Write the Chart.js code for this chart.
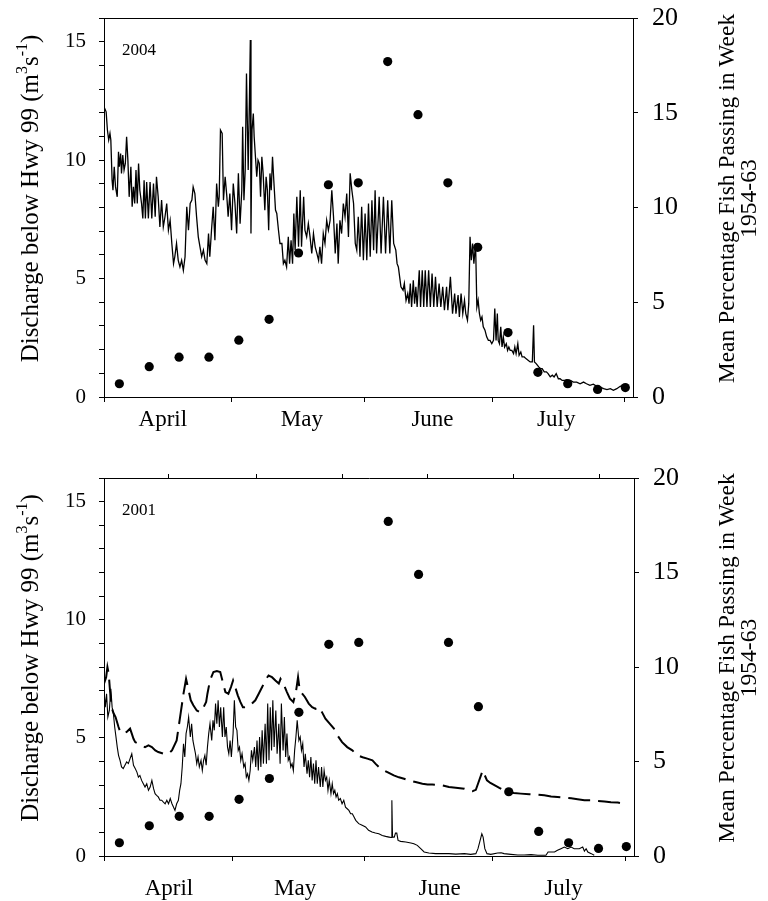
<!DOCTYPE html>
<html lang="en">
<head>
<meta charset="UTF-8">
<title>Discharge below Hwy 99 - 2004 and 2001</title>
<script src="https://cdn.jsdelivr.net/npm/chart.js"></script>
<style>
    body { margin: 0; background: #fff; }
    .panel { position: relative; width: 768px; }
    #panelTop { height: 450px; }
    #panelBottom { height: 451px; }
</style>
</head>
<body>
<div class="panel" id="panelTop"><canvas id="chart2004"></canvas></div>
<div class="panel" id="panelBottom"><canvas id="chart2001"></canvas></div>
<script>
// x values are days counted from 1 April
const monthStarts = [0, 30, 61, 91, 122];
const monthNames = ['April', 'May', 'June', 'July'];
const monthLabelDays2004 = [13.8, 46.4, 77.0, 106.0];
const monthLabelDays2001 = [15.2, 44.7, 78.5, 107.5];
const topTickDays2001 = [15.2, 35.6, 55.7, 75.6, 95.9, 116.0];

// weekly mean percentage of fish passing, 1954-63 (right axis)
const fishDays = [3.6, 10.6, 17.6, 24.6, 31.6, 38.7, 45.6, 52.6, 59.6, 66.5, 73.6, 80.6, 87.6, 94.7, 101.7, 108.7, 115.7, 122.2];
const fishPct = [0.7, 1.6, 2.1, 2.1, 3.0, 4.1, 7.6, 11.2, 11.3, 17.7, 14.9, 11.3, 7.9, 3.4, 1.3, 0.7, 0.4, 0.5];

// discharge below Hwy 99, 2004 [day, m3/s]
const flow2004 = [
    [0.0,12.25],[0.5,12.04],[0.8,11.27],[1.1,10.85],[1.4,11.13],[1.6,10.85],[1.9,9.15],[2.1,8.73],[2.4,9.72],[2.7,8.87],
    [3.1,8.45],[3.4,10.35],[3.6,9.72],[3.9,10.28],[4.1,9.44],[4.4,10.21],[4.7,9.58],[5.0,9.86],[5.3,10.99],[5.6,10.0],
    [5.9,8.45],[6.3,9.72],[6.6,8.03],[6.9,8.87],[7.2,8.17],[7.5,9.58],[7.8,8.17],[8.1,9.86],[8.4,8.73],[8.8,8.17],
    [9.1,7.54],[9.4,9.15],[9.7,7.54],[10.0,9.08],[10.4,7.54],[10.8,9.08],[11.2,7.54],[11.6,9.01],[12.0,7.61],[12.3,9.30],
    [12.7,8.45],[13.1,7.18],[13.5,8.31],[13.9,7.18],[14.3,7.61],[14.7,8.17],[15.1,7.04],[15.5,7.46],[15.9,6.48],[16.3,5.63],
    [16.6,5.92],[17.0,6.48],[17.4,5.77],[17.8,5.49],[18.2,5.77],[18.6,5.35],[19.0,5.92],[19.4,8.03],[19.8,7.04],[20.2,8.17],
    [20.6,8.31],[20.9,8.87],[21.3,8.59],[21.7,7.61],[22.1,6.76],[22.5,6.34],[22.9,5.92],[23.3,6.2],[23.7,5.77],[24.1,5.63],
    [24.5,6.9],[24.8,5.92],[25.2,7.04],[25.6,8.03],[26.0,6.62],[26.4,9.01],[26.8,8.03],[27.0,8.45],[27.3,11.27],[27.7,11.13],
    [28.0,8.31],[28.4,9.3],[28.8,8.45],[29.1,7.61],[29.5,8.59],[29.9,7.04],[30.3,9.01],[30.7,8.17],[31.1,6.9],[31.5,9.44],
    [31.9,7.32],[32.3,8.73],[32.5,11.41],[32.8,8.31],[33.1,9.58],[33.4,13.66],[33.8,9.58],[34.1,12.68],[34.3,15.07],[34.45,6.9],
    [34.7,11.27],[35.0,11.97],[35.2,10.99],[35.5,10.14],[35.8,9.3],[36.1,10.0],[36.4,9.86],[36.7,8.45],[37.0,10.14],[37.3,9.44],
    [37.7,7.89],[38.0,9.3],[38.3,8.73],[38.6,7.04],[38.9,9.44],[39.2,8.73],[39.5,10.14],[39.8,9.15],[40.2,7.89],[40.5,7.75],
    [40.9,7.04],[41.25,6.48],[41.7,6.48],[42.05,5.63],[42.4,5.77],[42.8,5.49],[43.2,6.76],[43.5,5.63],[43.85,6.62],[44.2,5.63],
    [44.5,7.75],[44.8,6.2],[45.2,8.45],[45.6,6.34],[46.0,8.73],[46.3,6.34],[46.8,8.45],[47.1,7.04],[47.5,6.76],[47.9,7.32],
    [48.3,6.76],[48.7,6.06],[49.1,6.9],[49.5,6.34],[49.9,6.06],[50.3,5.77],[50.6,6.34],[51.0,5.63],[51.4,6.9],[51.8,6.48],
    [52.2,7.46],[52.6,7.04],[53.0,7.46],[53.4,8.73],[53.8,7.61],[54.2,6.06],[54.6,7.32],[54.9,5.63],[55.3,7.46],[55.7,6.9],
    [56.1,8.17],[56.5,7.61],[56.9,8.59],[57.3,6.76],[57.7,9.44],[58.1,8.73],[58.5,8.17],[58.9,6.48],[59.25,6.2],[59.6,7.61],
    [60.0,5.92],[60.4,8.03],[60.8,5.77],[61.2,7.75],[61.6,5.77],[62.0,8.17],[62.4,5.92],[62.8,8.31],[63.2,6.2],[63.55,8.73],
    [63.9,6.06],[64.5,8.45],[64.95,6.06],[65.5,8.45],[66.0,6.06],[66.5,8.31],[67.0,6.06],[67.45,8.31],[67.9,6.48],[68.4,6.2],
    [68.7,5.63],[69.0,5.49],[69.3,5.07],[69.6,4.65],[70.1,4.51],[70.4,4.79],[70.8,4.08],[71.2,4.37],[71.5,3.94],[71.8,4.79],
    [72.1,3.8],[72.5,4.93],[72.8,3.94],[73.1,4.65],[73.4,3.8],[73.9,5.35],[74.2,3.8],[74.6,5.35],[74.95,3.8],[75.3,5.35],
    [75.7,3.8],[76.1,5.35],[76.5,3.8],[76.9,5.21],[77.3,3.8],[77.7,5.07],[78.1,3.8],[78.55,4.79],[78.95,3.8],[79.4,4.65],
    [79.8,3.66],[80.3,4.65],[80.6,3.66],[81.2,5.07],[81.7,3.52],[82.2,4.37],[82.5,3.52],[83.0,4.3],[83.3,3.38],[83.7,4.37],
    [84.1,3.52],[84.5,4.08],[84.8,3.52],[85.2,3.24],[85.5,3.94],[85.8,6.76],[86.1,5.77],[86.4,6.48],[86.7,5.63],[87.1,6.48],
    [87.4,3.8],[87.7,4.08],[88.0,3.52],[88.3,3.24],[88.6,3.38],[88.9,2.96],[89.3,2.82],[89.7,2.54],[90.1,2.39],[90.5,2.39],
    [90.9,2.25],[91.3,2.39],[91.6,3.73],[91.9,2.39],[92.2,3.52],[92.4,2.39],[92.7,2.25],[93.0,2.96],[93.3,2.11],[93.6,2.54],
    [93.9,2.11],[94.3,2.25],[94.6,1.97],[94.9,2.11],[95.2,1.97],[95.6,1.97],[96.0,1.83],[96.3,2.11],[96.6,1.83],[97.0,2.25],
    [97.3,1.76],[97.7,1.9],[98.0,1.69],[98.5,1.69],[98.9,1.62],[99.4,1.55],[99.9,1.48],[100.4,1.48],[100.7,3.03],[100.9,1.48],
    [101.3,1.41],[101.9,1.27],[102.3,1.2],[102.7,1.2],[103.2,1.06],[103.7,1.06],[104.1,0.99],[104.6,0.85],[105.1,0.92],[105.5,0.85],
    [106.0,0.99],[106.5,0.77],[106.9,0.77],[107.4,0.7],[107.9,0.7],[108.5,0.73],[109.3,0.7],[110.0,0.63],[110.8,0.63],[111.6,0.56],
    [112.4,0.63],[113.1,0.56],[113.9,0.49],[114.7,0.54],[115.5,0.45],[116.3,0.42],[117.1,0.35],[117.9,0.31],[118.7,0.35],[119.4,0.28],
    [120.2,0.35],[121.0,0.45],[121.8,0.5]
];

// discharge below Hwy 99, 2001 [day, m3/s] (thin line)
const flow2001 = [
    [0.0,7.01],[0.3,6.3],[0.6,6.87],[0.9,5.88],[1.25,6.16],[1.6,7.08],[1.9,6.3],[2.2,6.02],[2.5,5.46],[2.8,5.04],
    [3.1,4.61],[3.4,4.26],[3.75,4.05],[4.1,3.77],[4.5,3.7],[4.9,3.84],[5.3,3.98],[5.7,3.91],[6.1,4.12],[6.5,4.33],
    [6.9,3.84],[7.3,3.7],[7.7,3.55],[8.05,3.34],[8.4,3.41],[8.8,3.2],[9.2,3.06],[9.6,2.92],[10.0,3.06],[10.4,2.78],
    [10.8,2.92],[11.2,3.2],[11.6,2.85],[11.95,2.64],[12.3,2.57],[12.7,2.5],[13.1,2.36],[13.5,2.36],[13.9,2.28],[14.3,2.21],
    [14.7,2.36],[15.1,2.21],[15.5,2.43],[15.9,2.21],[16.25,2.07],[16.6,1.93],[17.0,2.21],[17.4,2.36],[17.7,2.78],[18.0,3.06],
    [18.3,3.77],[18.6,4.75],[18.9,4.19],[19.2,5.18],[19.5,5.46],[19.8,5.88],[20.2,5.04],[20.5,5.6],[20.8,4.89],[21.1,4.61],
    [21.4,4.33],[21.7,3.91],[22.0,4.19],[22.3,3.77],[22.7,4.05],[23.0,3.62],[23.3,4.05],[23.6,4.26],[23.9,3.84],[24.2,4.61],
    [24.5,5.18],[24.8,5.6],[25.2,4.89],[25.5,5.74],[25.8,5.32],[26.1,6.45],[26.4,5.6],[26.7,6.59],[27.0,5.46],[27.3,6.3],
    [27.7,5.04],[28.0,6.3],[28.3,5.04],[28.6,5.46],[28.9,4.61],[29.2,4.33],[29.5,4.89],[29.8,4.19],[30.2,5.18],[30.5,6.59],
    [30.8,5.46],[31.1,5.32],[31.4,4.47],[31.7,4.61],[32.0,4.05],[32.3,4.33],[32.7,3.77],[33.0,3.91],[33.3,3.34],[33.6,3.48],
    [33.9,3.2],[34.2,3.62],[34.5,4.47],[34.8,4.05],[35.2,4.61],[35.5,3.77],[35.8,4.89],[36.1,3.62],[36.4,5.04],[36.7,3.77],
    [37.0,5.32],[37.3,3.91],[37.7,5.6],[38.0,3.91],[38.3,6.45],[38.6,4.05],[38.9,6.3],[39.2,4.47],[39.5,6.59],[39.8,4.61],
    [40.2,6.16],[40.5,4.33],[40.9,5.6],[41.2,3.91],[41.5,6.45],[41.9,4.47],[42.2,5.88],[42.5,4.19],[42.8,5.18],[43.1,4.05],
    [43.4,4.19],[43.7,3.77],[44.0,3.91],[44.3,3.62],[44.6,4.47],[44.9,5.04],[45.2,5.74],[45.6,4.89],[45.9,5.04],[46.2,4.47],
    [46.5,4.75],[46.8,3.77],[47.1,4.33],[47.5,3.48],[47.8,4.05],[48.1,3.34],[48.4,4.19],[48.7,3.2],[49.0,3.91],[49.3,3.06],
    [49.6,4.05],[49.9,3.06],[50.2,3.77],[50.6,2.92],[50.9,3.77],[51.2,2.92],[51.5,3.62],[51.8,3.2],[52.1,3.34],[52.4,2.78],
    [52.7,3.2],[53.1,2.64],[53.4,3.06],[53.7,2.64],[54.0,2.78],[54.3,2.5],[54.6,2.64],[54.9,2.36],[55.3,2.43],[55.7,2.21],
    [56.1,2.36],[56.5,2.07],[56.9,2.0],[57.3,1.93],[57.7,1.79],[58.1,1.79],[58.5,1.65],[58.9,1.51],[59.6,1.37],[60.4,1.3],
    [61.2,1.23],[61.9,1.09],[62.7,1.02],[63.5,0.97],[64.3,0.94],[65.1,0.87],[65.9,0.83],[66.7,0.8],[67.2,0.78],[67.35,2.36],
    [67.5,0.8],[67.9,0.8],[68.2,0.97],[68.5,0.97],[68.8,0.66],[69.4,0.62],[70.6,0.59],[71.8,0.55],[72.5,0.52],[73.3,0.45],
    [74.1,0.31],[74.9,0.17],[76.0,0.13],[77.6,0.1],[79.2,0.1],[80.7,0.1],[82.3,0.08],[84.3,0.1],[85.8,0.07],[87.0,0.1],
    [87.5,0.31],[88.0,0.66],[88.4,0.94],[88.7,0.8],[89.1,0.31],[89.6,0.1],[90.5,0.07],[92.1,0.13],[92.9,0.14],[93.6,0.1],
    [95.2,0.07],[96.8,0.04],[98.3,0.04],[99.9,0.06],[101.5,0.03],[103.4,0.03],[103.9,0.17],[105.4,0.17],[106.1,0.24],[106.9,0.31],
    [107.7,0.38],[108.5,0.31],[109.3,0.38],[110.0,0.31],[111.2,0.31],[112.0,0.38],[112.4,0.21],[112.8,0.31],[113.2,0.17],[114.0,0.1],
    [114.7,0.03]
];

// 2001 dashed line [day, m3/s]
const flow2001Dashed = [
    [0,7.29],[0.5,7.57],[0.8,8.0],[1.1,7.72],[1.4,7.01],[1.7,6.45],[2.0,6.16],[2.3,6.02],[2.7,5.88],[3.4,5.46],
    [3.8,5.25],[4.5,5.18],[5.3,5.25],[6.1,5.39],[6.5,5.18],[6.9,4.96],[7.3,4.82],[8.5,4.7],[9.6,4.61],[10.4,4.68],
    [11.2,4.61],[12.0,4.47],[12.7,4.4],[13.9,4.33],[15.1,4.33],[15.9,4.47],[17.0,4.89],[17.8,5.88],[18.6,6.87],[19.2,7.5],
    [19.8,7.01],[20.3,6.59],[20.9,6.38],[21.7,6.16],[22.5,6.09],[23.3,6.3],[23.9,6.52],[24.2,6.87],[24.8,7.43],[25.6,7.79],
    [26.4,7.83],[27.2,7.79],[27.8,7.36],[28.4,6.94],[29.1,6.87],[29.7,7.15],[30.2,7.43],[30.7,7.15],[31.3,6.8],[31.9,6.52],
    [32.5,6.3],[32.9,6.3],[33.8,6.35],[34.6,6.45],[35.4,6.59],[36.2,6.87],[37.0,7.15],[37.7,7.43],[38.5,7.64],[39.3,7.57],
    [40.1,7.43],[40.9,7.3],[41.3,7.5],[42.0,7.29],[42.8,6.94],[43.5,6.66],[44.3,6.52],[44.9,6.94],[45.4,7.57],[45.8,7.01],
    [47.0,6.73],[47.9,6.45],[48.7,6.3],[49.5,6.23],[50.3,6.3],[51.0,6.09],[51.8,5.81],[52.8,5.6],[53.8,5.39],[54.6,5.11],
    [55.7,4.82],[56.9,4.61],[58.1,4.47],[59.3,4.26],[60.5,4.18],[61.6,4.12],[62.8,4.05],[63.5,3.91],[64.7,3.7],[66.3,3.55],
    [67.8,3.41],[69.0,3.33],[70.2,3.27],[71.4,3.2],[72.9,3.13],[74.5,3.06],[75.7,3.03],[76.8,3.03],[79.2,2.99],[80.7,2.92],
    [82.3,2.89],[84.3,2.85],[85.4,2.78],[86.2,2.74],[87.0,2.8],[87.5,3.06],[88.6,3.62],[89.6,3.2],[90.4,3.09],[92.5,2.88],
    [93.6,2.78],[94.8,2.71],[95.9,2.67],[97.5,2.64],[99.5,2.61],[101.4,2.6],[103.0,2.57],[104.6,2.52],[106.1,2.5],[107.7,2.47],
    [109.3,2.44],[110.8,2.4],[112.4,2.36],[114.0,2.36],[115.5,2.33],[117.1,2.31],[118.6,2.28],[120.2,2.26],[122.2,2.19]
];

const black = '#000';
const serif = '"Liberation Serif", "Times New Roman", serif';

// rotated axis titles and the year tag
const panelText = {
    id: 'panelText',
    afterDraw(chart, args, opts) {
        const { ctx, chartArea } = chart;
        const cy = (chartArea.top + chartArea.bottom) / 2 - 9;
        ctx.save();
        ctx.fillStyle = black;
        ctx.textBaseline = 'middle';

        // left title with superscripts
        ctx.save();
        ctx.translate(31, cy);
        ctx.rotate(-Math.PI / 2);
        const big = '25px ' + serif, small = '16px ' + serif;
        const parts = [['Discharge below Hwy 99 (m', big, 0], ['3', small, -8], ['s', big, 0], ['-1', small, -8], [')', big, 0]];
        let total = 0;
        parts.forEach(p => { ctx.font = p[1]; total += ctx.measureText(p[0]).width; });
        let x = -total / 2;
        ctx.textAlign = 'left';
        parts.forEach(p => { ctx.font = p[1]; ctx.fillText(p[0], x, p[2]); x += ctx.measureText(p[0]).width; });
        ctx.restore();

        // right title, two lines
        ctx.save();
        ctx.translate(728, cy);
        ctx.rotate(-Math.PI / 2);
        ctx.textAlign = 'center';
        ctx.font = '23.5px ' + serif;
        ctx.fillText('Mean Percentage Fish Passing in Week', 0, 0);
        ctx.fillText('1954-63', 0, 22);
        ctx.restore();

        ctx.font = '17px ' + serif;
        ctx.textAlign = 'left';
        ctx.fillText(opts.year, chartArea.left + 18, chartArea.top + 33);
        ctx.restore();
    }
};

// keep label overhang from pushing the plot area around
function noPad(s) {
    s.paddingTop = 0;
    s.paddingBottom = 0;
    s.paddingLeft = 0;
    s.paddingRight = 0;
}

function makePanel(canvasId, cfg) {
    const datasets = [
        {
            type: 'scatter', data: fishDays.map((d, i) => ({ x: d, y: fishPct[i] })),
            xAxisID: 'x', yAxisID: 'y1', pointRadius: 4.6, pointBackgroundColor: black, pointBorderWidth: 0
        },
        {
            type: 'line', data: cfg.flow, xAxisID: 'x', yAxisID: 'y',
            borderColor: black, borderWidth: cfg.lineWidth, pointRadius: 0, tension: 0, fill: false
        }
    ];
    if (cfg.dashed) {
        datasets.push({
            type: 'line', data: cfg.dashed, xAxisID: 'x', yAxisID: 'y',
            borderColor: black, borderWidth: 2, borderDash: [22, 8], pointRadius: 0, tension: 0, fill: false
        });
    }

    new Chart(document.getElementById(canvasId), {
        data: { datasets: datasets },
        plugins: [panelText],
        options: {
            responsive: true,
            maintainAspectRatio: false,
            animation: false,
            devicePixelRatio: 1,
            layout: { padding: { top: cfg.top, left: 0, right: 0, bottom: 0 } },
            plugins: {
                legend: { display: false },
                tooltip: { enabled: false },
                panelText: { year: cfg.year }
            },
            scales: {
                x: {
                    type: 'linear', position: 'bottom', min: 0, max: 124,
                    afterBuildTicks: s => {
                        s.ticks = monthStarts.concat(cfg.labelDays).sort((a, b) => a - b).map(v => ({ value: v }));
                    },
                    afterFit: s => { s.height = cfg.xHeight; noPad(s); },
                    ticks: {
                        autoSkip: false, maxRotation: 0, color: black, padding: cfg.labelPad,
                        font: { family: serif, size: 23 },
                        callback: v => {
                            const i = cfg.labelDays.indexOf(v);
                            return i >= 0 ? monthNames[i] : '';
                        }
                    },
                    grid: {
                        drawOnChartArea: false, tickLength: 5,
                        tickColor: c => (c.tick && monthStarts.includes(c.tick.value)) ? black : 'rgba(0,0,0,0)'
                    },
                    border: { display: true, color: black, width: 1 }
                },
                xTop: {
                    type: 'linear', position: 'top', min: 0, max: 124,
                    afterBuildTicks: s => {
                        if (cfg.topTicks) s.ticks = cfg.topTicks.map(v => ({ value: v }));
                    },
                    afterFit: s => { s.height = 0; noPad(s); },
                    ticks: { display: false },
                    grid: { drawOnChartArea: false, drawTicks: !!cfg.topTicks, tickLength: 4, tickColor: black },
                    border: { display: true, color: black, width: 1 }
                },
                y: {
                    type: 'linear', position: 'left', min: 0, max: 16,
                    afterFit: s => { s.width = 104; noPad(s); },
                    ticks: {
                        stepSize: 1, autoSkip: false, color: black, padding: 13,
                        font: { family: serif, size: 21 },
                        callback: v => v % 5 === 0 ? v : ''
                    },
                    grid: { drawOnChartArea: false, tickLength: 5, tickColor: black },
                    border: { display: true, color: black, width: 1 }
                },
                y1: {
                    type: 'linear', position: 'right', min: 0, max: 20,
                    afterFit: s => { s.width = 768 - cfg.right; noPad(s); },
                    ticks: {
                        stepSize: 5, color: black, padding: 14,
                        font: { family: serif, size: 26 }
                    },
                    grid: { drawOnChartArea: false, tickLength: 5, tickColor: black },
                    border: { display: true, color: black, width: 1 }
                }
            }
        }
    });
}

makePanel('chart2004', {
    flow: flow2004, year: '2004', labelDays: monthLabelDays2004, lineWidth: 1.3,
    top: 18, right: 633, xHeight: 53, labelPad: 4
});

makePanel('chart2001', {
    flow: flow2001, dashed: flow2001Dashed, year: '2001', labelDays: monthLabelDays2001, lineWidth: 1.1,
    topTicks: topTickDays2001, top: 28, right: 634, xHeight: 45, labelPad: 14
});
</script>
</body>
</html>
